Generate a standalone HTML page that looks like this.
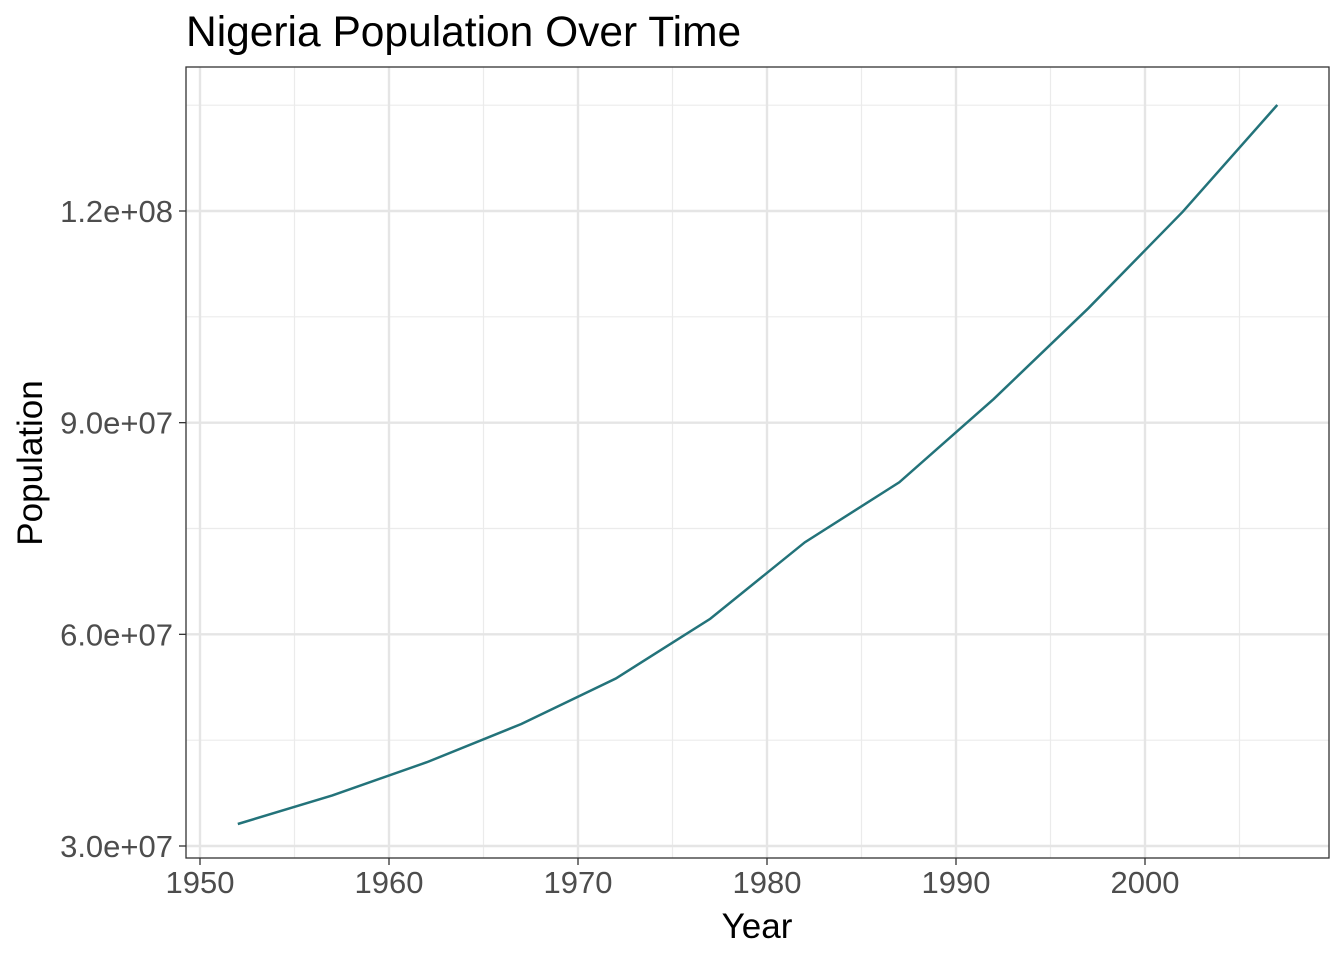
<!DOCTYPE html>
<html><head><meta charset="utf-8"><style>
body{margin:0;background:#fff;}
svg{display:block;font-family:"Liberation Sans",Arial,sans-serif;}
</style></head><body>
<svg id="chart" width="1344" height="960" viewBox="0 0 1344 960">
<text x="186" y="46" font-size="42.5" fill="#000">Nigeria Population Over Time</text>
<g id="grid"></g>
<path id="line" fill="none" stroke="#23737a" stroke-width="2.5"/>
<rect x="186" y="67" width="1143" height="791" fill="none" stroke="#333" stroke-width="1.3"/>
<g id="axes"></g>
<text x="757" y="938" font-size="35" text-anchor="middle" fill="#000">Year</text>
<text transform="translate(42,463) rotate(-90)" font-size="35" text-anchor="middle" fill="#000">Population</text>
</svg>
<script>
const years=[1952,1957,1962,1967,1972,1977,1982,1987,1992,1997,2002,2007];
const population=[33119096,37173340,41871351,47287752,53740085,62209173,73039376,81551520,93364244,106207839,119901274,135031164];
const xTicks=[1950,1960,1970,1980,1990,2000];
const xMinor=[1955,1965,1975,1985,1995,2005];
const yTicks=[30000000,60000000,90000000,120000000];
const yTickLabels=["3.0e+07","6.0e+07","9.0e+07","1.2e+08"];
const yMinor=[45000000,75000000,105000000,135000000];
const NS="http://www.w3.org/2000/svg";
const x=v=>200+(v-1950)*(1145-200)/50;
const y=v=>846-(v-30000000)*(846-211)/90000000;
const grid=document.getElementById('grid'),axes=document.getElementById('axes');
function mk(tag,attrs,parent){const e=document.createElementNS(NS,tag);for(const k in attrs)e.setAttribute(k,attrs[k]);parent.appendChild(e);return e;}
xMinor.forEach(v=>{const l=mk('line',{x1:x(v),x2:x(v),y1:67,y2:858,stroke:'#ebebeb','stroke-width':1.2},grid);

});
yMinor.forEach(v=>{const l=mk('line',{x1:186,x2:1329,y1:y(v),y2:y(v),stroke:'#ebebeb','stroke-width':1.2},grid);

});
xTicks.forEach(v=>{const l=mk('line',{x1:x(v),x2:x(v),y1:67,y2:858,stroke:'#e5e5e5','stroke-width':2.4},grid);


const t=mk('line',{x1:x(v),x2:x(v),y1:858,y2:865,stroke:'#333','stroke-width':1.3},axes);


const tx=mk('text',{x:x(v),y:893,'font-size':31,'text-anchor':'middle',fill:'#4d4d4d'},axes);tx.textContent=v;

});
yTicks.forEach((v,i)=>{const l=mk('line',{x1:186,x2:1329,y1:y(v),y2:y(v),stroke:'#e5e5e5','stroke-width':2.4},grid);


const t=mk('line',{x1:179,x2:186,y1:y(v),y2:y(v),stroke:'#333','stroke-width':1.3},axes);


const tx=mk('text',{x:173,y:y(v)+11,'font-size':31,'text-anchor':'end',fill:'#4d4d4d'},axes);tx.textContent=yTickLabels[i];

});
document.getElementById('line').setAttribute('d',years.map((yr,i)=>(i?'L':'M')+x(yr)+','+y(population[i])).join(''));
</script>
</body></html>
